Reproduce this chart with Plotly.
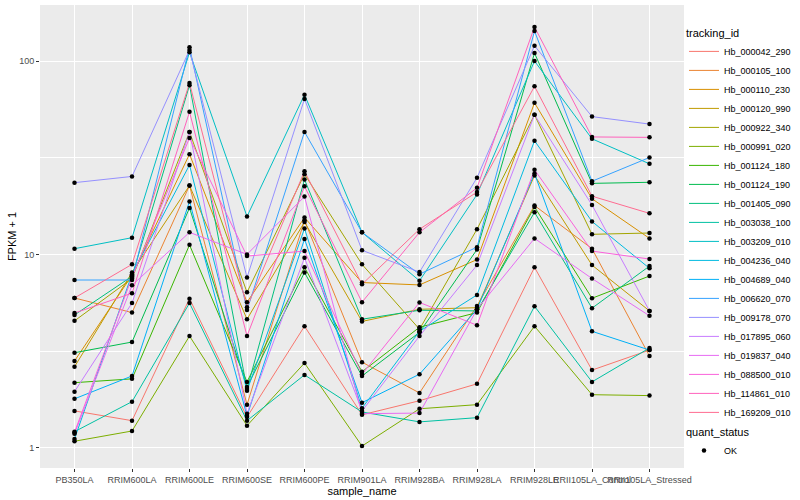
import plotly.graph_objects as go

samples = ["PB350LA", "RRIM600LA", "RRIM600LE", "RRIM600SE", "RRIM600PE", "RRIM901LA",
           "RRIM928BA", "RRIM928LA", "RRIM928LE", "RRII105LA_Control", "RRII105LA_Stressed"]

tracking_ids = ["Hb_000042_290", "Hb_000105_100", "Hb_000110_230", "Hb_000120_990", "Hb_000922_340",
                "Hb_000991_020", "Hb_001124_180", "Hb_001124_190", "Hb_001405_090", "Hb_003038_100",
                "Hb_003209_010", "Hb_004236_040", "Hb_004689_040", "Hb_006620_070", "Hb_009178_070",
                "Hb_017895_060", "Hb_019837_040", "Hb_088500_010", "Hb_114861_010", "Hb_169209_010"]

colors = ["#F8766D", "#EA8331", "#D89000", "#C09B00", "#A3A500", "#7CAE00", "#39B600", "#00BB4E",
          "#00BF7D", "#00C1A3", "#00BFC4", "#00BAE0", "#00B0F6", "#35A2FF", "#9590FF", "#C77CFF",
          "#E76BF3", "#FA62DB", "#FF62BC", "#FF6C91"]

# FPKM + 1 values per tracking_id (in sample order)
hb_000042_290 = [1.55, 1.38, 5.9, 1.44, 4.25, 1.48, 1.75, 2.14, 8.57, 2.52, 3.2]
hb_000105_100 = [5.95, 5.0, 22.7, 1.67, 15.0, 2.77, 1.92, 5.41, 17.9, 10.7, 2.98]
hb_000110_230 = [2.81, 7.8, 33, 5.66, 15.5, 7.15, 6.95, 9.4, 60.8, 19.4, 12.1]
hb_000120_990 = [2.62, 8.07, 22.7, 4.62, 14.7, 4.5, 5.2, 5.3, 25.6, 8.8, 5.1]
hb_000922_340 = [4.53, 7.5, 43, 6.37, 26.0, 8.88, 4.1, 13.5, 52.7, 12.7, 12.9]
hb_000991_020 = [1.08, 1.22, 3.78, 1.3, 2.74, 1.02, 1.59, 1.67, 4.25, 1.88, 1.86]
hb_001124_180 = [2.17, 2.27, 11.2, 2.19, 8.57, 2.47, 4.2, 5.0, 17.6, 5.93, 7.73]
hb_001124_190 = [3.1, 3.52, 17.4, 2.06, 8.06, 2.35, 3.95, 10.6, 110, 23.3, 23.6]
hb_001405_090 = [4.86, 7.7, 75, 2.01, 24.4, 4.62, 5.14, 5.1, 16.5, 5.27, 8.7]
hb_003038_100 = [1.21, 1.73, 5.6, 1.38, 2.38, 1.53, 1.36, 1.43, 5.39, 2.19, 3.28]
hb_003209_010 = [10.7, 12.2, 111, 15.7, 67, 13, 7.3, 20.4, 100, 39.6, 29.4]
hb_004236_040 = [1.11, 7.9, 29, 1.97, 13.6, 1.6, 4.0, 6.17, 38.7, 14.8, 8.47]
hb_004689_040 = [1.79, 2.35, 18.8, 1.46, 12.0, 1.71, 2.4, 5.2, 26.2, 4.0, 3.2]
hb_006620_070 = [7.37, 7.37, 118, 5.15, 43, 13, 7.9, 10.9, 143, 23.9, 31.7]
hb_009178_070 = [23.5, 25.3, 114, 7.6, 63.7, 10.5, 8.1, 24.9, 120, 51.6, 47.2]
hb_017895_060 = [1.95, 5.6, 43, 1.5, 9.6, 1.55, 3.78, 8.8, 52.7, 18, 5.1]
hb_019837_040 = [1.18, 6.92, 13, 10, 19.9, 1.5, 1.51, 5.2, 12.1, 7.5, 4.81]
hb_088500_010 = [1.2, 7.6, 40, 9.8, 10.4, 2.4, 5.64, 4.3, 27.4, 10.4, 9.46]
hb_114861_010 = [4.97, 6.3, 54.6, 3.78, 22.5, 5.66, 13, 22.1, 150, 40.5, 40.3]
hb_169209_010 = [5.95, 8.88, 77, 5.33, 26.9, 7.0, 13.5, 21, 74, 20, 16.3]

series = [hb_000042_290, hb_000105_100, hb_000110_230, hb_000120_990, hb_000922_340,
          hb_000991_020, hb_001124_180, hb_001124_190, hb_001405_090, hb_003038_100,
          hb_003209_010, hb_004236_040, hb_004689_040, hb_006620_070, hb_009178_070,
          hb_017895_060, hb_019837_040, hb_088500_010, hb_114861_010, hb_169209_010]

y_ticks = [1, 10, 100]
y_tick_labels = ["1", "10", "100"]

FONT = "Liberation Sans, Arial, Helvetica, sans-serif"

fig = go.Figure()
for name, col, vals in zip(tracking_ids, colors, series):
    fig.add_trace(go.Scatter(x=samples, y=vals, mode="lines", name=name,
                             line=dict(color=col, width=1), legend="legend"))

all_x = [s for vals in series for s in samples]
all_y = [v for vals in series for v in vals]
fig.add_trace(go.Scatter(x=all_x, y=all_y, mode="markers", name="OK",
                         marker=dict(color="black", size=4.5, symbol="circle"),
                         legend="legend2"))

fig.update_layout(
    width=800, height=500,
    margin=dict(l=40, r=116, t=5, b=32, autoexpand=False),
    paper_bgcolor="white", plot_bgcolor="#EBEBEB",
    font=dict(family=FONT, size=9, color="#4D4D4D"),
    xaxis=dict(type="category", categoryorder="array", categoryarray=samples,
               range=[-0.6, 10.6], showgrid=True, gridcolor="white", gridwidth=1.1,
               ticks="outside", ticklen=3, tickcolor="#333333", tickwidth=1,
               tickangle=0, tickfont=dict(size=9, color="#4D4D4D"), automargin=False,
               showline=False, zeroline=False,
               title=dict(text="sample_name", font=dict(size=11, color="black"), standoff=0)),
    yaxis=dict(type="log", range=[-0.105, 2.29], tickmode="array", tickvals=y_ticks,
               ticktext=y_tick_labels, showgrid=True, gridcolor="white", gridwidth=1.1,
               ticks="outside", ticklen=3, tickcolor="#333333", tickwidth=1, automargin=False,
               tickfont=dict(size=9, color="#4D4D4D"), showline=False, zeroline=False,
               minor=dict(tickmode="array", tickvals=[3.1623, 31.623], showgrid=True,
                          gridcolor="white", gridwidth=0.5, ticks=""),
               title=dict(text="FPKM + 1", font=dict(size=11, color="black"), standoff=0)),
    legend=dict(title=dict(text="tracking_id", font=dict(size=11, color="black")),
                x=1.0, xanchor="left", y=0.962, yanchor="top",
                font=dict(size=9, color="black"), bgcolor="rgba(0,0,0,0)",
                itemwidth=30, tracegroupgap=0),
    legend2=dict(title=dict(text="quant_status", font=dict(size=11, color="black")),
                 x=1.0, xanchor="left", y=0.1, yanchor="top",
                 font=dict(size=9, color="black"), bgcolor="rgba(0,0,0,0)"),
)

fig.write_html("out.html", config={"displayModeBar": False},
               post_script="document.body.style.margin='0';")
